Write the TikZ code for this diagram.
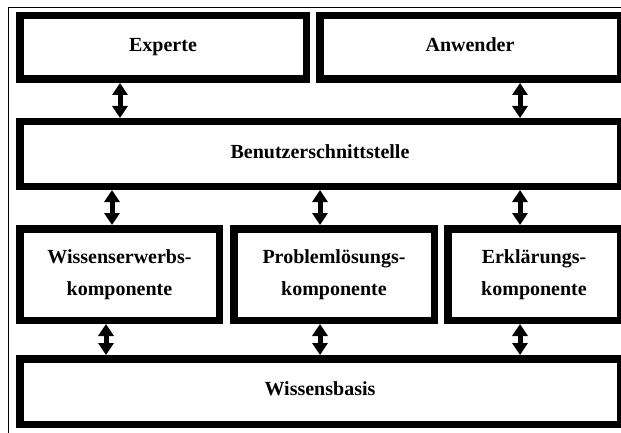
\documentclass[tikz,border=0pt]{standalone}
\usepackage{fontspec}
\setmainfont{Liberation Serif}
\usetikzlibrary{arrows.meta}

\begin{document}
\begin{tikzpicture}[x=1pt, y=-1pt,
  box/.style={rectangle, draw, line width=7.5pt, inner sep=0pt, align=center,
    font=\bfseries\fontsize{20}{32}\selectfont},
  oneline/.style={box, text height=13pt, text depth=5pt},
  link/.style={line width=5pt, >={Triangle[width=15pt,length=12pt]}, <->}]
\useasboundingbox (0,0) rectangle (621,433);

% frame
\draw[line width=1.5pt] (621,7.5) -| (8.5,433);

\node[oneline, minimum width=286.5pt, minimum height=63.5pt] (experte) at (163,47.5) {Experte};
\node[oneline, minimum width=300.5pt, minimum height=63.5pt] (anwender) at (470,47.5) {Anwender};
\node[oneline, minimum width=600.5pt, minimum height=64.5pt] (ui) at (320,154) {Benutzerschnittstelle};
\node[box, minimum width=199.5pt, minimum height=91.5pt] (erwerb) at (119.5,274.5) {Wissenserwerbs-\\komponente};
\node[box, minimum width=200.5pt, minimum height=91.5pt] (loesung) at (334,274.5) {Problemlösungs-\\komponente};
\node[box, minimum width=172.5pt, minimum height=91.5pt] (erklaer) at (534,274.5) {Erklärungs-\\komponente};
\node[oneline, minimum width=600.5pt, minimum height=65.5pt] (basis) at (320,391.5) {Wissensbasis};

\draw[link] (experte.south -| 120,0) -- (ui.north -| 120,0);
\draw[link] (anwender.south -| 520,0) -- (ui.north -| 520,0);

\draw[link] (ui.south -| 112,0) -- (erwerb.north -| 112,0);
\draw[link] (ui.south -| 320,0) -- (loesung.north -| 320,0);
\draw[link] (ui.south -| 520,0) -- (erklaer.north -| 520,0);

\draw[link] (erwerb.south -| 106,0) -- (basis.north -| 106,0);
\draw[link] (loesung.south -| 320,0) -- (basis.north -| 320,0);
\draw[link] (erklaer.south -| 520,0) -- (basis.north -| 520,0);
\end{tikzpicture}
\end{document}
